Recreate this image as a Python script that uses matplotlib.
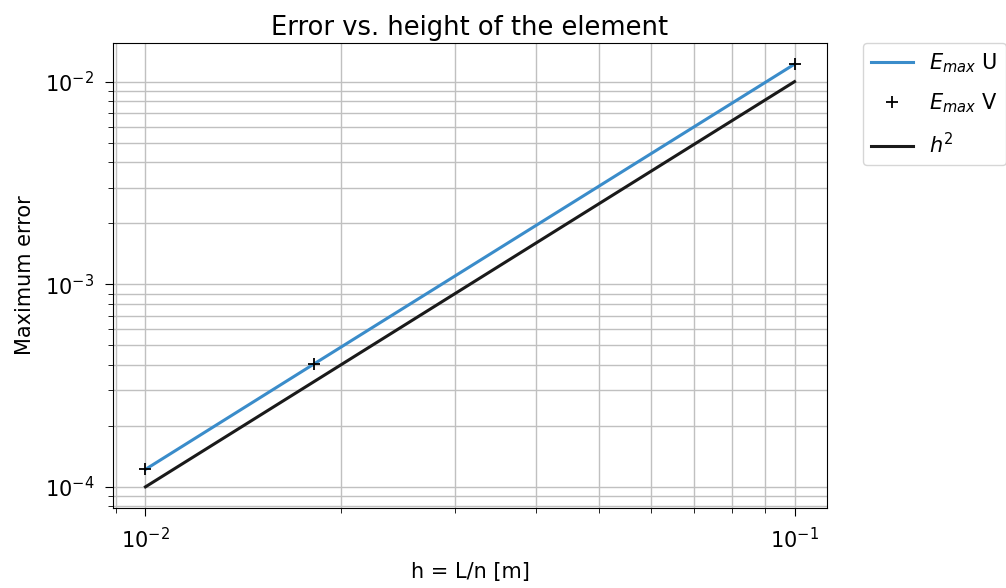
import matplotlib
matplotlib.use('Agg')
import matplotlib.pyplot as plt

# element heights h = L/n [m]
h = [0.01, 0.0182, 0.1]
# maximum errors
err_u = [1.22e-4, 4.05e-4, 1.22e-2]
err_v = [1.22e-4, 4.05e-4, 1.22e-2]
h_ref = [0.01, 0.1]
h_sq = [x ** 2 for x in h_ref]

plt.rcParams['font.size'] = 15
plt.rcParams['xtick.major.size'] = 5.5
plt.rcParams['ytick.major.size'] = 5.5
plt.rcParams['xtick.minor.size'] = 3.5
plt.rcParams['ytick.minor.size'] = 3.5
plt.rcParams['xtick.major.pad'] = 8
plt.rcParams['ytick.major.pad'] = 8
plt.rcParams['xtick.minor.pad'] = 8
plt.rcParams['ytick.minor.pad'] = 8

fig = plt.figure(figsize=(10.06, 5.88), dpi=100)
ax = fig.add_axes([113 / 1006, 1 - 508 / 588, 714 / 1006, 465 / 588])

ax.loglog(h, err_u, color='#3a8cca', lw=2.2, label=r'$E_{max}$ U')
ax.loglog(h, err_v, '+', color='black', ms=9, mew=1.3, label=r'$E_{max}$ V')
ax.loglog(h_ref, h_sq, color='#1a1a1a', lw=2.2, label=r'$h^2$')

ax.grid(True, which='both', color='#c0c0c0', lw=1.0)
ax.set_axisbelow(True)
ax.set_xlabel('h = L/n [m]', labelpad=7)
ax.set_ylabel('Maximum error', labelpad=7)
ax.set_title('Error vs. height of the element', fontsize=18.5)
ax.legend(bbox_to_anchor=(1.05, 1), loc='upper left', borderaxespad=0,
          labelspacing=0.8)

fig.savefig('out.png', dpi=100)
